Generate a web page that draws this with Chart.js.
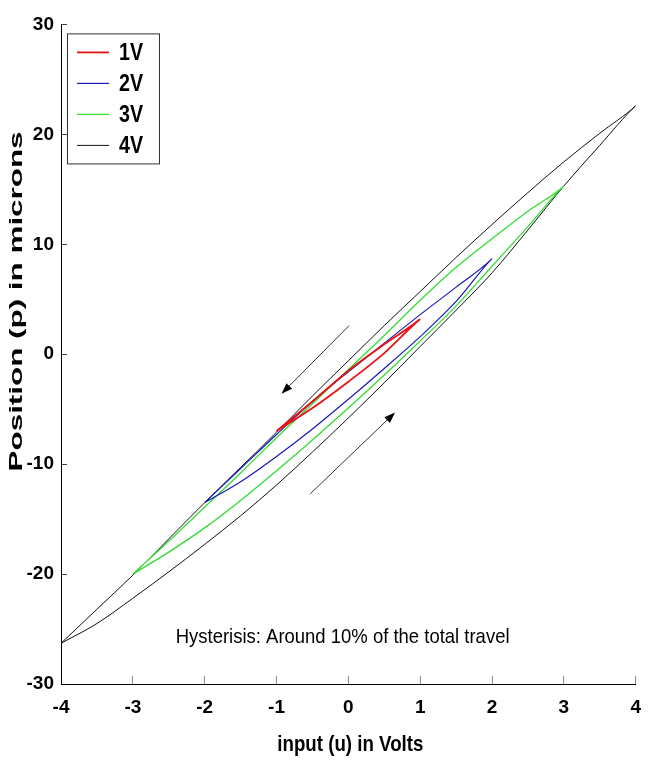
<!DOCTYPE html>
<html>
<head>
<meta charset="utf-8">
<title>Hysteresis loops</title>
<script src="https://cdn.jsdelivr.net/npm/chart.js@4.4.0/dist/chart.umd.min.js"></script>
<style>
  body { margin: 0; background: #fff; }
  canvas { display: block; }
</style>
</head>
<body>
<canvas id="hystChart" width="661" height="763"></canvas>
<script>
// input voltage (V) and position (microns) for each sweep amplitude
const volts1 = [-1, -0.5, 0, 0.5, 1];
const rise1 = [-7.0, -4.9, -2.5, 0.1, 3.2];
const fall1 = [-7.0, -4.3, -1.5, 0.9, 3.2];

const volts2 = [-2, -1.5, -1, -0.5, 0, 0.5, 1, 1.5, 2];
const rise2 = [-13.5, -11.6, -9.3, -6.8, -4.1, -1.3, 1.6, 4.8, 8.7];
const fall2 = [-13.5, -10.4, -7.3, -4.3, -1.6, 1.0, 3.6, 6.1, 8.7];

const volts3 = [-3, -2.5, -2, -1.5, -1, -0.5, 0, 0.5, 1, 1.5, 2, 2.5, 3];
const rise3 = [-20.0, -18.0, -15.8, -13.3, -10.6, -7.8, -4.9, -1.9, 1.2, 4.4, 8.0, 11.6, 15.3];
const fall3 = [-20.0, -17.0, -13.9, -10.8, -7.6, -4.5, -1.4, 1.7, 4.9, 7.9, 10.5, 13.0, 15.3];

const volts4 = [-4, -3.5, -3, -2.5, -2, -1.5, -1, -0.5, 0, 0.5, 1, 1.5, 2, 2.5, 3, 3.5, 4];
const rise4 = [-26.3, -24.5, -22.2, -19.8, -17.3, -14.7, -11.9, -8.9, -5.8, -2.6, 0.7, 4.0, 7.4, 11.3, 15.3, 19.0, 22.6];
const fall4 = [-26.3, -23.2, -20.1, -16.8, -13.5, -10.3, -7.1, -3.8, -0.6, 2.6, 5.7, 8.8, 11.8, 14.7, 17.5, 20.1, 22.6];

const seriesLabels = ['1V', '2V', '3V', '4V'];
const seriesColors = ['#e81414', '#1a1ab8', '#33dd33', '#111111'];
const seriesWidths = [1.8, 1.2, 1.3, 1];

const xTicks = [-4, -3, -2, -1, 0, 1, 2, 3, 4];
const yTicks = [-30, -20, -10, 0, 10, 20, 30];

// direction arrows [u, p]: tail -> head
const arrowTails = [[0.01, 2.6], [-0.53, -12.7]];
const arrowHeads = [[-0.93, -3.6], [0.65, -5.3]];

const noteText = 'Hysterisis: Around 10% of the total travel';
const notePos = [-0.08, -25.75];

const sans = "'Liberation Sans', Arial, sans-serif";

// go up the lower branch, then back down the upper one
function loop(volts, rise, fall) {
    const pts = volts.map((v, i) => ({ x: v, y: rise[i] }));
    for (let i = volts.length - 2; i >= 0; i--) {
        pts.push({ x: volts[i], y: fall[i] });
    }
    return pts;
}

const loops = [
    loop(volts1, rise1, fall1),
    loop(volts2, rise2, fall2),
    loop(volts3, rise3, fall3),
    loop(volts4, rise4, fall4)
];

// condensed lettering: squeeze the glyphs horizontally
function narrowText(ctx, text, x, y, font, align, squeeze) {
    ctx.save();
    ctx.font = font;
    ctx.fillStyle = '#000';
    ctx.textAlign = align || 'left';
    ctx.textBaseline = 'middle';
    ctx.translate(x, y);
    ctx.scale(squeeze || 0.82, 1);
    ctx.fillText(text, 0, 0);
    ctx.restore();
}

// legend drawn as a framed box inside the plot, top-left
const boxLegend = {
    id: 'boxLegend',
    afterDatasetsDraw(chart) {
        const { ctx, chartArea } = chart;
        const x0 = chartArea.left + 6, y0 = chartArea.top + 9;
        ctx.save();
        ctx.fillStyle = '#fff';
        ctx.fillRect(x0, y0, 92, 130);
        ctx.strokeStyle = '#333';
        ctx.lineWidth = 1;
        ctx.strokeRect(x0 + 0.5, y0 + 0.5, 92, 130);
        chart.data.datasets.forEach((ds, i) => {
            const y = y0 + 19 + i * 31;
            ctx.strokeStyle = ds.borderColor;
            ctx.lineWidth = ds.borderWidth;
            ctx.beginPath();
            ctx.moveTo(x0 + 10, y);
            ctx.lineTo(x0 + 42, y);
            ctx.stroke();
            narrowText(ctx, ds.label, x0 + 52, y + 1, 'bold 24px ' + sans);
        });
        ctx.restore();
    }
};

// arrows, the note and the axis titles
const notes = {
    id: 'notes',
    afterDatasetsDraw(chart) {
        const { ctx, scales, chartArea } = chart;
        const sx = scales.x, sy = scales.y;
        ctx.save();
        arrowTails.forEach((t, i) => {
            const h = arrowHeads[i];
            const x1 = sx.getPixelForValue(t[0]), y1 = sy.getPixelForValue(t[1]);
            const x2 = sx.getPixelForValue(h[0]), y2 = sy.getPixelForValue(h[1]);
            const ang = Math.atan2(y2 - y1, x2 - x1);
            const c = Math.cos(ang), s = Math.sin(ang);
            ctx.strokeStyle = '#333';
            ctx.lineWidth = 1;
            ctx.beginPath();
            ctx.moveTo(x1, y1);
            ctx.lineTo(x2 - 8 * c, y2 - 8 * s);
            ctx.stroke();
            ctx.fillStyle = '#000';
            ctx.beginPath();
            ctx.moveTo(x2, y2);
            ctx.lineTo(x2 - 11 * c + 4 * s, y2 - 11 * s - 4 * c);
            ctx.lineTo(x2 - 11 * c - 4 * s, y2 - 11 * s + 4 * c);
            ctx.closePath();
            ctx.fill();
        });
        ctx.restore();

        narrowText(ctx, noteText, sx.getPixelForValue(notePos[0]), sy.getPixelForValue(notePos[1]),
            '21px ' + sans, 'center', 0.88);
        narrowText(ctx, 'input (u) in Volts', (chartArea.left + chartArea.right) / 2 + 2, 745,
            'bold 22px ' + sans, 'center', 0.85);

        // y title is long and thin, stretched along its baseline
        const text = 'Position (p) in microns';
        ctx.save();
        ctx.font = 'bold 19px ' + sans;
        const k = 340 / ctx.measureText(text).width;
        ctx.translate(17, chartArea.top + chartArea.height * 0.42);
        ctx.rotate(-Math.PI / 2);
        ctx.scale(k, 1);
        ctx.fillStyle = '#000';
        ctx.textAlign = 'center';
        ctx.textBaseline = 'middle';
        ctx.fillText(text, 0, 0);
        ctx.restore();
    }
};

const ctx = document.getElementById('hystChart').getContext('2d');
new Chart(ctx, {
    type: 'line',
    data: {
        datasets: loops.map((pts, i) => ({
            label: seriesLabels[i],
            data: pts,
            borderColor: seriesColors[i],
            borderWidth: seriesWidths[i],
            pointRadius: 0,
            cubicInterpolationMode: 'monotone',
            fill: false
        }))
    },
    options: {
        responsive: false,
        animation: false,
        devicePixelRatio: 1,
        layout: { padding: { top: 19, right: 6, left: 0, bottom: 0 } },
        plugins: {
            legend: { display: false },
            tooltip: { enabled: false }
        },
        scales: {
            x: {
                type: 'linear',
                min: -4,
                max: 4,
                afterBuildTicks: s => { s.ticks = xTicks.map(v => ({ value: v })); },
                afterFit: s => { s.height = 79; },
                border: { display: true, color: '#000', width: 1 },
                grid: { drawOnChartArea: false, drawTicks: true, tickLength: -8, tickColor: '#888' },
                ticks: {
                    color: '#000',
                    padding: 20,
                    autoSkip: false,
                    maxRotation: 0,
                    font: { family: sans, size: 19, weight: 'bold' }
                }
            },
            y: {
                type: 'linear',
                min: -30,
                max: 30,
                afterBuildTicks: s => { s.ticks = yTicks.map(v => ({ value: v })); },
                afterFit: s => { s.width = 61; },
                border: { display: true, color: '#000', width: 1 },
                grid: { drawOnChartArea: false, drawTicks: true, tickLength: -6, tickColor: '#444' },
                ticks: {
                    color: '#000',
                    padding: 13,
                    autoSkip: false,
                    font: { family: sans, size: 19, weight: 'bold' }
                }
            }
        }
    },
    plugins: [boxLegend, notes]
});
</script>
</body>
</html>
